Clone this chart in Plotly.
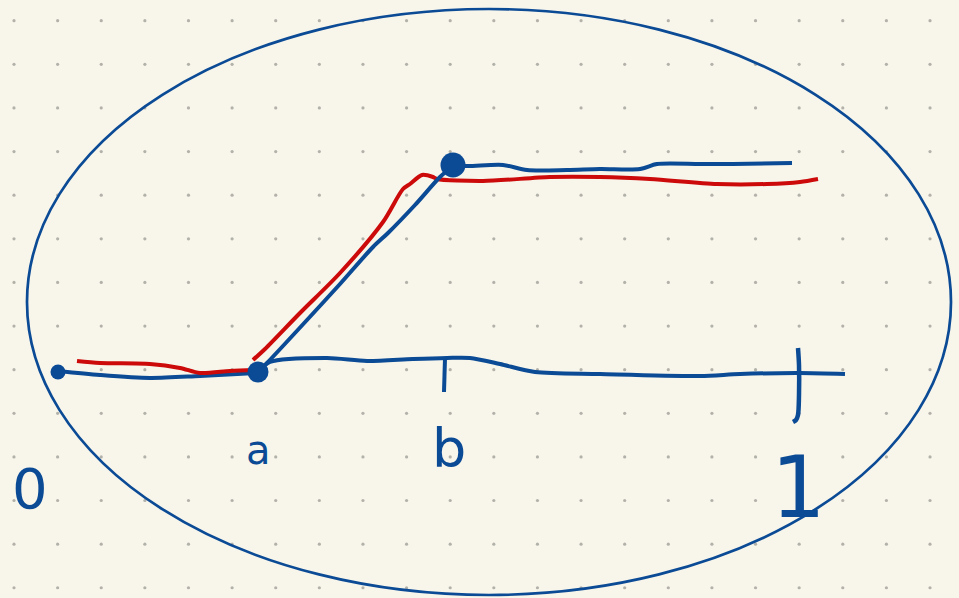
import numpy as np
import plotly.graph_objects as go

W, H = 959, 598
BG = "#f8f6eb"
BLUE = "#0b4a95"
RED = "#cc0a0a"
DOT = "#b3b2aa"

# hand-drawn strokes (pixel coordinates)
axis_left_x = [58, 100, 150, 200, 258]
axis_left_y = [371, 375, 378, 376, 373]
axis_right_x = [258, 270, 327, 367, 413, 447, 470, 500, 535, 600, 700, 740, 800, 845]
axis_right_y = [372, 362, 358, 361, 359, 358, 358, 364, 372, 374, 376, 374, 373, 374]
blue_diag_x = [260, 267, 307, 340, 373, 388, 415, 440, 453]
blue_diag_y = [370, 363, 320, 284, 247, 233, 205, 177, 166]
blue_top_x = [453, 467, 503, 527, 567, 600, 640, 657, 700, 733, 792]
blue_top_y = [165, 166, 165, 170, 170, 169, 169, 164, 164, 164, 163]
tick_b_x = [445, 445, 444]
tick_b_y = [358, 375, 392]
tick_1_x = [798, 799, 799, 798, 796, 793]
tick_1_y = [348, 365, 395, 415, 420, 422]
red_left_x = [77, 100, 150, 180, 200, 230, 255]
red_left_y = [361, 363, 364, 368, 373, 371, 370]
red_main_x = [253, 265, 300, 340, 383, 403, 410, 422, 433, 437, 483, 550, 600, 650, 717, 767, 800, 818]
red_main_y = [360, 349, 313, 273, 222, 189, 184, 175, 177, 179, 181, 177, 177, 179, 184, 184, 182, 179]
points_x = [58, 258, 453]
points_y = [372, 372, 165]
points_size = [15, 21, 25]

labels = ["0", "a", "b", "1"]
labels_x = [30, 258, 449, 798]
labels_y = [488, 450, 448, 487]
labels_size = [56, 40, 54, 86]

ellipse = dict(x0=27, x1=951, y0=9, y1=595)

# background dot grid
gx = np.arange(14, W, 43.62)
gy = np.arange(20.7, H, 43.62)
GX, GY = np.meshgrid(gx, gy)

fig = go.Figure()
fig.add_trace(go.Scatter(x=GX.ravel(), y=GY.ravel(), mode="markers",
                         marker=dict(size=3.2, color=DOT, opacity=1), hoverinfo="skip"))

def stroke(xs, ys, color, width=4, shape="spline"):
    fig.add_trace(go.Scatter(x=xs, y=ys, mode="lines",
                             line=dict(color=color, width=width, shape=shape, smoothing=0.8),
                             hoverinfo="skip"))

stroke(axis_left_x, axis_left_y, BLUE)
stroke(axis_right_x, axis_right_y, BLUE)
stroke(tick_b_x, tick_b_y, BLUE, shape="linear")
stroke(tick_1_x, tick_1_y, BLUE, width=4.5)
stroke(red_left_x, red_left_y, RED)
stroke(red_main_x, red_main_y, RED)
stroke(blue_diag_x, blue_diag_y, BLUE)
stroke(blue_top_x, blue_top_y, BLUE)

fig.add_trace(go.Scatter(x=points_x, y=points_y, mode="markers",
                         marker=dict(size=points_size, color=BLUE, opacity=1, line=dict(width=0)),
                         hoverinfo="skip"))

fig.add_shape(type="circle", xref="x", yref="y", line=dict(color=BLUE, width=2.7),
              **ellipse)

for t, x, y, s in zip(labels, labels_x, labels_y, labels_size):
    fig.add_annotation(x=x, y=y, text=t, showarrow=False, xanchor="center", yanchor="middle",
                       font=dict(family="DejaVu Sans", size=s, color=BLUE))

fig.update_layout(width=W, height=H, margin=dict(l=0, r=0, t=0, b=0),
                  paper_bgcolor=BG, plot_bgcolor=BG, showlegend=False)
fig.update_xaxes(range=[0, W], visible=False, fixedrange=True)
fig.update_yaxes(range=[H, 0], visible=False, fixedrange=True)
fig.write_html("out.html", config={"displayModeBar": False},
               post_script="document.body.style.margin='0';document.body.style.background='%s';" % BG)
